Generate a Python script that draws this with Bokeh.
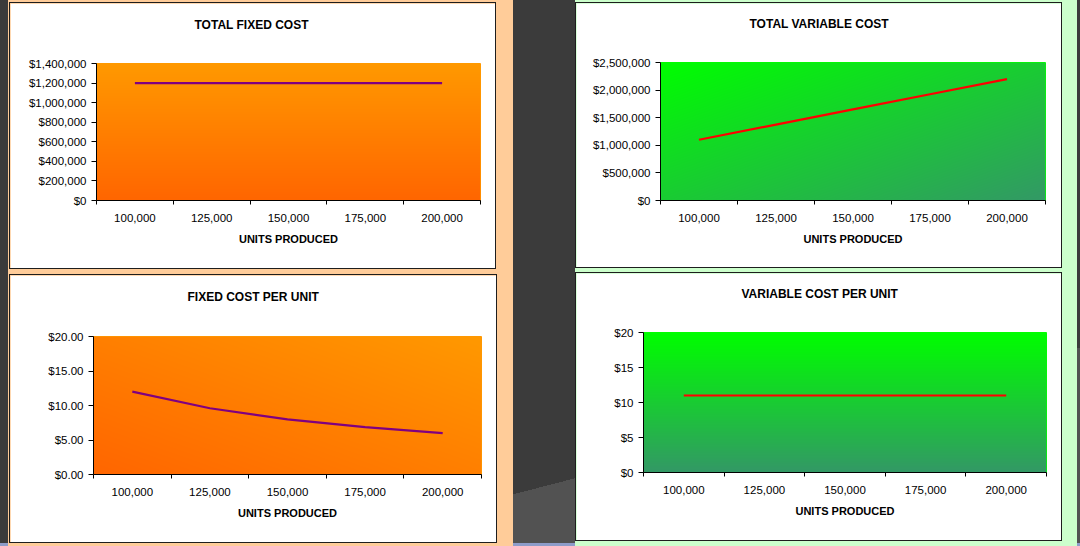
import numpy as np
from bokeh.plotting import figure
from bokeh.layouts import row, column
from bokeh.models import (Range1d, FixedTicker, SingleIntervalTicker, NumeralTickFormatter,
                          GlobalInlineStyleSheet, Title)
from bokeh.embed import file_html
from bokeh.resources import INLINE

# ---- data ----
units_produced = [100000, 125000, 150000, 175000, 200000]
total_fixed_cost = [1200000, 1200000, 1200000, 1200000, 1200000]
total_variable_cost = [1100000, 1375000, 1650000, 1925000, 2200000]
fixed_cost_per_unit = [12.00, 9.60, 8.00, 6.86, 6.00]
variable_cost_per_unit = [11.00, 11.00, 11.00, 11.00, 11.00]

FONT = "Liberation Sans"


def gradient(fw, fh, c_a, c_b, mode):
    """c_a -> c_b ; returns packed RGBA image (row 0 = bottom)."""
    fx = np.linspace(0, 1, fw)[None, :]
    fy = np.linspace(0, 1, fh)[:, None]
    if mode == "vertical":          # c_a at bottom, c_b at top
        s = np.broadcast_to(fy, (fh, fw))
    elif mode == "diag_up":         # c_a bottom-left, c_b top-right
        s = (fx + fy) / 2.0
    else:                           # c_a bottom-right, c_b top-left
        s = ((1 - fx) + fy) / 2.0
    a, b = np.array(c_a, float), np.array(c_b, float)
    r = (a[0] + (b[0] - a[0]) * s).astype(np.uint32)
    g = (a[1] + (b[1] - a[1]) * s).astype(np.uint32)
    bl = (a[2] + (b[2] - a[2]) * s).astype(np.uint32)
    img = r | (g << 8) | (bl << 16) | (np.uint32(255) << 24)
    return img.astype(np.uint32)


def make_panel(title, values, ymax, yint, yfmt, line_color, c_a, c_b, mode, outline,
               w, h, left, right, top, bottom, title_offset, title_gap):
    step = units_produced[1] - units_produced[0]
    x0 = units_produced[0] - step / 2
    x1 = units_produced[-1] + step / 2
    p = figure(width=w, height=h, output_backend="svg", toolbar_location=None,
               x_range=Range1d(x0, x1), y_range=Range1d(0, ymax),
               min_border_left=left, min_border_right=right,
               min_border_top=top, min_border_bottom=bottom,
               border_fill_color="white", background_fill_color="white",
               styles={"box-shadow": "0 0 0 1px #1e1e1e"})
    try:
        p.frame_align = False
    except Exception:
        pass
    fw = w - left - right
    fh = h - top - bottom
    p.image_rgba(image=[gradient(fw, fh, c_a, c_b, mode)], x=x0, y=0, dw=x1 - x0, dh=ymax)
    p.line(units_produced, values, line_color=line_color, line_width=2.2)

    # spacer between frame and title, then the title itself
    p.add_layout(Title(text=" ", standoff=title_gap, text_font=FONT, text_font_size="12px"), "above")
    p.add_layout(Title(text=title, align="left", offset=title_offset, standoff=0,
                       text_font=FONT, text_font_size="12px", text_font_style="bold",
                       text_color="#000000"), "above")

    p.outline_line_color = outline
    p.xgrid.visible = False
    p.ygrid.visible = False

    xa = p.xaxis[0]
    xa.ticker = FixedTicker(ticks=units_produced,
                            minor_ticks=[u - step / 2 for u in units_produced] + [x1])
    xa.formatter = NumeralTickFormatter(format="0,0")
    xa.major_tick_line_color = None
    xa.major_tick_out = 0
    xa.major_tick_in = 0
    xa.minor_tick_line_color = "black"
    xa.minor_tick_out = 4
    xa.minor_tick_in = 0
    xa.axis_line_color = "black"
    xa.major_label_standoff = 9
    xa.major_label_text_font = FONT
    xa.major_label_text_font_size = "11.5px"
    xa.major_label_text_color = "#000000"
    xa.axis_label = "UNITS PRODUCED"
    xa.axis_label_standoff = 8
    xa.axis_label_text_font = FONT
    xa.axis_label_text_font_size = "11px"
    xa.axis_label_text_font_style = "bold"
    xa.axis_label_text_color = "#000000"

    ya = p.yaxis[0]
    ya.ticker = SingleIntervalTicker(interval=yint, num_minor_ticks=0)
    ya.formatter = NumeralTickFormatter(format=yfmt)
    ya.major_tick_out = 5
    ya.major_tick_in = 0
    ya.minor_tick_line_color = None
    ya.axis_line_color = "black"
    ya.major_label_standoff = 5
    ya.major_label_text_font = FONT
    ya.major_label_text_font_size = "11.5px"
    ya.major_label_text_color = "#000000"
    return p


ORANGE_LIGHT = (255, 153, 0)
ORANGE_DARK = (255, 102, 0)
GREEN_LIGHT = (0, 255, 0)
GREEN_DARK = (51, 153, 102)

tl = make_panel("TOTAL FIXED COST", total_fixed_cost, 1400000, 200000, "$0,0", "#800080",
                ORANGE_DARK, ORANGE_LIGHT, "vertical", "#FF9900",
                485, 265, 86, 15, 60, 68, 98, 16)
bl = make_panel("FIXED COST PER UNIT", fixed_cost_per_unit, 20, 5, "$0,0.00", "#800080",
                ORANGE_DARK, ORANGE_LIGHT, "diag_up", "#FF9900",
                486, 267, 83, 15, 61, 68, 94, 17)
tr = make_panel("TOTAL VARIABLE COST", total_variable_cost, 2500000, 500000, "$0,0", "#FF0000",
                GREEN_DARK, GREEN_LIGHT, "diag_down", "#00FF00",
                485, 264, 84, 16, 59, 67, 89, 16)
br = make_panel("VARIABLE COST PER UNIT", variable_cost_per_unit, 20, 5, "$0", "#FF0000",
                GREEN_DARK, GREEN_LIGHT, "vertical", "#00FF00",
                485, 267, 67, 15, 59, 68, 98, 16)

tl.margin = (3, 18, 0, 2)
bl.margin = (7, 17, 4, 2)
tr.margin = (3, 16, 0, 1)
br.margin = (6, 16, 6, 1)

left_col = column(tl, bl, styles={"background-color": "#FFCC99"}, margin=(0, 0, 0, 8))
right_col = column(tr, br, styles={"background-color": "#CCFFCC"}, margin=(0, 0, 0, 62))

PAGE_CSS = """
html, body { margin: 0 !important; padding: 0; overflow: hidden; }
body {
  background-color: #3b3b3b;
  background-image:
    linear-gradient(to top, #8d9cc9 0 3px, transparent 3px),
    linear-gradient(345.5deg, #525252 0 192px, transparent 192px);
}
"""
page = row(left_col, right_col, stylesheets=[GlobalInlineStyleSheet(css=PAGE_CSS)])

open("out.html", "w").write(file_html(page, INLINE))
